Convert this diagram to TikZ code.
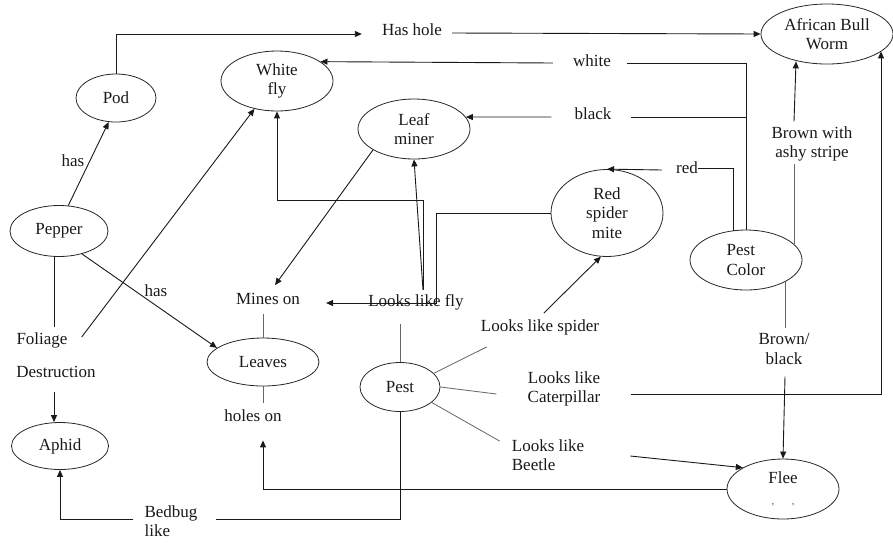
\documentclass[tikz,border=0pt]{standalone}
\usepackage{fontspec}
\setmainfont{Liberation Serif}
\usetikzlibrary{shapes.geometric,arrows.meta,calc}
\begin{document}
\begin{tikzpicture}[x=1pt,y=-1pt,
  every node/.style={font=\fontsize{17}{19.5}\selectfont, text=black!90},
  ell/.style={draw=black!85, ellipse, inner sep=0pt, align=center, line width=0.8pt},
  lbl/.style={inner sep=0pt, align=center},
  con/.style={line width=0.9pt, black!90},
  arr/.style={con, -{Triangle[length=7pt,width=6pt]}},
  gcon/.style={line width=0.8pt, black!60},
]
\useasboundingbox (0,0) rectangle (893,542);

% ellipses
\node[ell, minimum width=80pt, minimum height=48pt] (pod) at (116,98) {Pod};
\node[ell, minimum width=112pt, minimum height=60pt] (wfly) at (277,81) {White\\fly};
\node[ell, minimum width=112pt, minimum height=60pt] (lminer) at (414,129) {Leaf\\miner};
\node[ell, minimum width=98pt, minimum height=51pt] (pepper) at (59,231) {Pepper};
\node[ell, minimum width=112pt, minimum height=87pt] (rsm) at (607,213) {Red\\spider\\mite};
\node[ell, minimum width=112pt, minimum height=60pt, align=left] (pcolor) at (746,260) {Pest\\Color\hspace{20pt}};
\node[ell, minimum width=132pt, minimum height=60pt] (abw) at (827,34) {African Bull\\Worm};
\node[ell, minimum width=112pt, minimum height=48pt] (leaves) at (263,362) {Leaves};
\node[ell, minimum width=80pt, minimum height=49pt] (pest) at (400,387) {Pest};
\node[ell, minimum width=97pt, minimum height=47pt] (aphid) at (60,446) {Aphid};
\node[ell, minimum width=112pt, minimum height=60pt] (flee) at (783,489) {Flee\\[2pt]{\small ,\hspace{18pt},}};

% labels
\node[lbl] (hashole) at (412,30) {Has hole};
\node[lbl] (has1) at (73,161) {has};
\node[lbl] (white) at (592,61) {white};
\node[lbl] (black) at (593,114) {black};
\node[lbl] (red) at (687,168) {red};
\node[lbl] (bwa) at (812,144) {Brown with\\ashy stripe};
\node[lbl] (mines) at (268,299) {Mines on};
\node[lbl] (llfly) at (416,302) {Looks like fly};
\node[lbl] (has2) at (156,291) {has};
\node[lbl, align=left] (foliage) at (42,340) {Foliage};
\node[lbl, align=left] (destr) at (56,372) {Destruction};
\node[lbl] (holes) at (253,416) {holes on};
\node[lbl, align=left] (bedbug) at (171,521) {Bedbug\\like};
\node[lbl] (llspider) at (540,327) {Looks like spider};
\node[lbl] (bb) at (784,349) {Brown/\\black};
\node[lbl] (llcat) at (564,389) {Looks like\\Caterpillar};
\node[lbl, align=left] (llbeetle) at (548,455) {Looks like\\Beetle};

\coordinate (hub) at ($(llfly.north)+(7,-4)$);

% connectors
\draw[arr] (pod.north) |- ($(hashole.west)+(-20,4)$);
\draw[arr] ($(hashole.east)+(10,3)$) -- (abw.west);
\draw[arr] (pepper.70) -- (pod.253);
\draw[arr] (pepper.315) -- (leaves.163);
\draw[con] ($(pepper.south)+(-5,0)$) -- ($(pepper.south |- foliage.north)+(-5,-5)$);
\draw[arr] ($(foliage.east)+(14,-3)$) -- (wfly.231);
\draw[arr] ($(destr.south)+(-2,14)$) -- ($(aphid.north)+(-6,0)$);

\draw[con] (pcolor.north) -- ($(pcolor.north |- white)+(0,2)$) -- ($(white.east)+(16,2)$);
\draw[arr] ($(white.west)+(-20,2)$) -- (wfly.24);
\draw[con] ($(pcolor.north |- black)+(0,3)$) -- ($(black.east)+(19,3)$);
\draw[arr] ($(black.west)+(-23,3)$) -- (lminer.13);
\draw[con] ($(pcolor.north)+(-13,1)$) |- (red.east);
\draw[arr] ($(red.west)+(-14,2)$) -- (rsm.north);

\draw[gcon] ($(pcolor.center)+(48,-16)$) -- ($(bwa.south)+(-18,2)$);
\draw[arr] ($(bwa.north)+(-18,-5)$) -- ($(abw.south)+(-31,-3)$);
\draw[gcon] ($(pcolor.center)+(39,22)$) -- ($(bb.north)+(1,-5)$);
\draw[arr] ($(bb.south)+(1,12)$) -- (flee.north);

\draw[arr] ($(llcat.east)+(30,5)$) -| ($(abw.south)+(54,-13)$);
\draw[arr] ($(llbeetle.east)+(46,1)$) -- (flee.152);
\draw[arr] (flee.west) -| ($(leaves.south)+(0,54)$);
\draw[gcon] (leaves.south) -- ($(leaves.south |- holes.north)+(0,-7)$);
\draw[gcon] ($(mines.south -| leaves.north)+(0,9)$) -- (leaves.north);

\draw[arr] (lminer.207) -- ($(mines.north)+(7,-8)$);
\draw[gcon] (pest.north) -- ($(pest.north |- llfly.south)+(0,14)$);
\draw[arr] (hub) -- (lminer.south);
\draw[arr] (hub) -- ($(hub)+(0,-90)$) -| (wfly.south);
\draw[arr] (rsm.west) -- ($(rsm.west)+(-114,0)$) |- ($(mines.east)+(26,4)$);

\draw[gcon] (pest.22) -- ($(llspider.south west)+(6,12)$);
\draw[arr] ($(llspider.north west)+(63,-6)$) -- (rsm.262);
\draw[gcon] (pest.east) -- ($(llcat.west)+(-31,5)$);
\draw[gcon] (pest.334) -- ($(llbeetle.north west)+(-12,2)$);

\draw[con] (pest.south) |- ($(bedbug.east)+(18,-2)$);
\draw[arr] ($(bedbug.west)+(-11,-2)$) -| (aphid.south);
\end{tikzpicture}
\end{document}
